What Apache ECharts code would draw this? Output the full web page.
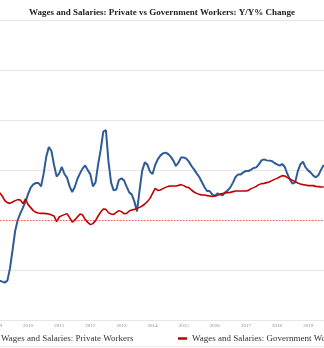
<!DOCTYPE html>
<html>
<head>
<meta charset="utf-8">
<style>
  html, body { margin: 0; padding: 0; background: #ffffff; overflow: hidden; }
  body { width: 324px; height: 348px; position: relative; }
  /* The canvas is wider than the window so the plot and legend run past both edges */
  #chart { position: absolute; left: -20px; top: 0; width: 364px; height: 348px; }
</style>
<script src="https://cdn.jsdelivr.net/npm/echarts@6/dist/echarts.min.js"></script>
</head>
<body>
<div id="chart"></div>
<script>
// Monthly Y/Y % change, starting January 2009
const startYear = 2009;
const yearTicks = [2009, 2010, 2011, 2012, 2013, 2014, 2015, 2016, 2017, 2018, 2019];
const seriesNames = [
  'Wages and Salaries: Private Workers',
  'Wages and Salaries: Government Workers'
];

const privateWorkers = [
  -4.85, -4.85, -4.93, -5.01, -4.85, -3.87, -2.40, -0.88, 0.00, 0.53, 0.99, 1.47,
  2.08, 2.59, 2.85, 2.96, 2.96, 2.69, 3.73, 5.07, 5.84, 5.52, 4.40, 3.47,
  3.73, 4.24, 3.68, 3.39, 2.69, 2.24, 2.64, 3.28, 3.73, 4.11, 4.37, 4.00,
  3.65, 2.69, 3.01, 4.45, 5.63, 7.07, 7.20, 4.67, 2.99, 2.37, 2.43, 3.20,
  3.33, 3.17, 2.67, 2.21, 2.03, 1.47, 0.69, 2.40, 3.95, 4.61, 4.43, 3.87,
  3.68, 4.40, 4.85, 5.15, 5.33, 5.39, 5.28, 5.07, 4.75, 4.32, 4.59, 5.01,
  5.01, 4.91, 4.67, 4.32, 4.05, 3.73, 3.44, 3.04, 2.64, 2.32, 2.32, 2.05,
  1.92, 2.13, 2.05, 1.97, 2.21, 2.37, 2.61, 2.99, 3.44, 3.65, 3.65, 3.81,
  3.92, 3.92, 4.03, 4.16, 4.21, 4.45, 4.77, 4.85, 4.77, 4.75, 4.72, 4.56,
  4.45, 4.35, 4.48, 4.24, 3.68, 3.23, 2.91, 3.01, 3.89, 4.45, 4.67, 4.21,
  3.97, 3.79, 3.55, 3.41, 3.60, 4.03, 4.40
];

const governmentWorkers = [
  2.32, 2.19, 1.92, 1.55, 1.39, 1.33, 1.44, 1.55, 1.63, 1.60, 1.31, 1.68,
  1.23, 0.99, 0.75, 0.61, 0.56, 0.53, 0.53, 0.51, 0.48, 0.40, 0.32, -0.13,
  0.24, 0.35, 0.43, 0.51, 0.19, -0.16, 0.00, 0.24, 0.48, 0.40, 0.05, -0.19,
  -0.37, -0.29, -0.05, 0.32, 0.64, 0.88, 0.85, 0.59, 0.48, 0.45, 0.61, 0.75,
  0.67, 0.51, 0.53, 0.72, 0.80, 0.85, 0.93, 1.01, 1.12, 1.28, 1.47, 1.73,
  2.13, 2.53, 2.37, 2.40, 2.51, 2.61, 2.69, 2.72, 2.72, 2.72, 2.77, 2.83,
  2.75, 2.64, 2.59, 2.40, 2.24, 2.13, 2.05, 2.00, 2.00, 1.95, 1.92, 1.89,
  1.92, 1.97, 2.05, 2.11, 2.16, 2.19, 2.21, 2.27, 2.32, 2.32, 2.32, 2.32,
  2.32, 2.37, 2.51, 2.59, 2.69, 2.83, 2.91, 2.93, 2.99, 3.04, 3.15, 3.25,
  3.33, 3.44, 3.55, 3.52, 3.39, 3.28, 3.17, 3.07, 2.96, 2.88, 2.83, 2.80,
  2.75, 2.75, 2.75, 2.69, 2.67, 2.64, 2.64
];

// Pair each monthly value with its fractional-year position
const toPoints = (values) => values.map((v, i) => [startYear + i / 12, v]);

const serifFont = '"Liberation Serif", "DejaVu Serif", serif';
const blue = '#2f5c96';
const red = '#c00000';

const chart = echarts.init(document.getElementById('chart'), null, { renderer: 'canvas' });

const legendBase = {
  top: 329,
  icon: 'rect',
  itemWidth: 9,
  itemHeight: 2.5,
  textStyle: { fontFamily: serifFont, fontSize: 9, color: '#333333' }
};

chart.setOption({
  animation: false,
  backgroundColor: '#ffffff',
  title: {
    text: 'Wages and Salaries: Private vs Government Workers: Y/Y% Change',
    left: 'center',
    top: 3,
    textStyle: { fontFamily: serifFont, fontSize: 9, fontWeight: 'bold', color: '#222222' }
  },
  legend: [
    Object.assign({ data: [seriesNames[0]], left: 2 }, legendBase),
    Object.assign({ data: [seriesNames[1]], left: 193 }, legendBase)
  ],
  grid: { left: 17, right: 20, top: 20, bottom: 28, containLabel: false, outerBoundsMode: 'none' },
  xAxis: {
    type: 'value',
    min: yearTicks[0],
    max: 2019.51,
    interval: 1,
    axisLine: { show: true, lineStyle: { color: '#e3e3e3', width: 1 } },
    axisTick: { show: false },
    splitLine: { show: false },
    axisLabel: {
      fontFamily: serifFont,
      fontSize: 5,
      color: '#8a8a8a',
      margin: 3,
      formatter: (v) => (yearTicks.includes(Math.round(v)) ? String(Math.round(v)) : '')
    }
  },
  yAxis: {
    type: 'value',
    min: -8,
    max: 16,
    interval: 4,
    axisLine: { show: false },
    axisTick: { show: false },
    axisLabel: { show: false },
    splitLine: {
      show: true,
      lineStyle: {
        // the zero line is drawn by the dotted red reference line instead
        color: ['#e6e6e6', '#e6e6e6', '#ffffff', '#e6e6e6', '#e6e6e6', '#e6e6e6', '#e6e6e6'],
        width: 1
      }
    }
  },
  graphic: [
    {
      type: 'rect',
      left: 0,
      top: 346,
      shape: { width: 364, height: 1 },
      style: { fill: '#ececec' },
      silent: true
    }
  ],
  series: [
    {
      name: seriesNames[0],
      type: 'line',
      data: toPoints(privateWorkers),
      showSymbol: false,
      symbol: 'none',
      color: blue,
      lineStyle: { color: blue, width: 2 },
      z: 3
    },
    {
      name: seriesNames[1],
      type: 'line',
      data: toPoints(governmentWorkers),
      showSymbol: false,
      symbol: 'none',
      color: red,
      lineStyle: { color: red, width: 1.6 },
      z: 4,
      markLine: {
        silent: true,
        symbol: 'none',
        label: { show: false },
        emphasis: { disabled: true },
        lineStyle: { color: '#ff4d4d', type: [1.5, 1.5], width: 1, opacity: 0.9 },
        data: [{ yAxis: 0 }]
      }
    }
  ]
});
</script>
</body>
</html>
